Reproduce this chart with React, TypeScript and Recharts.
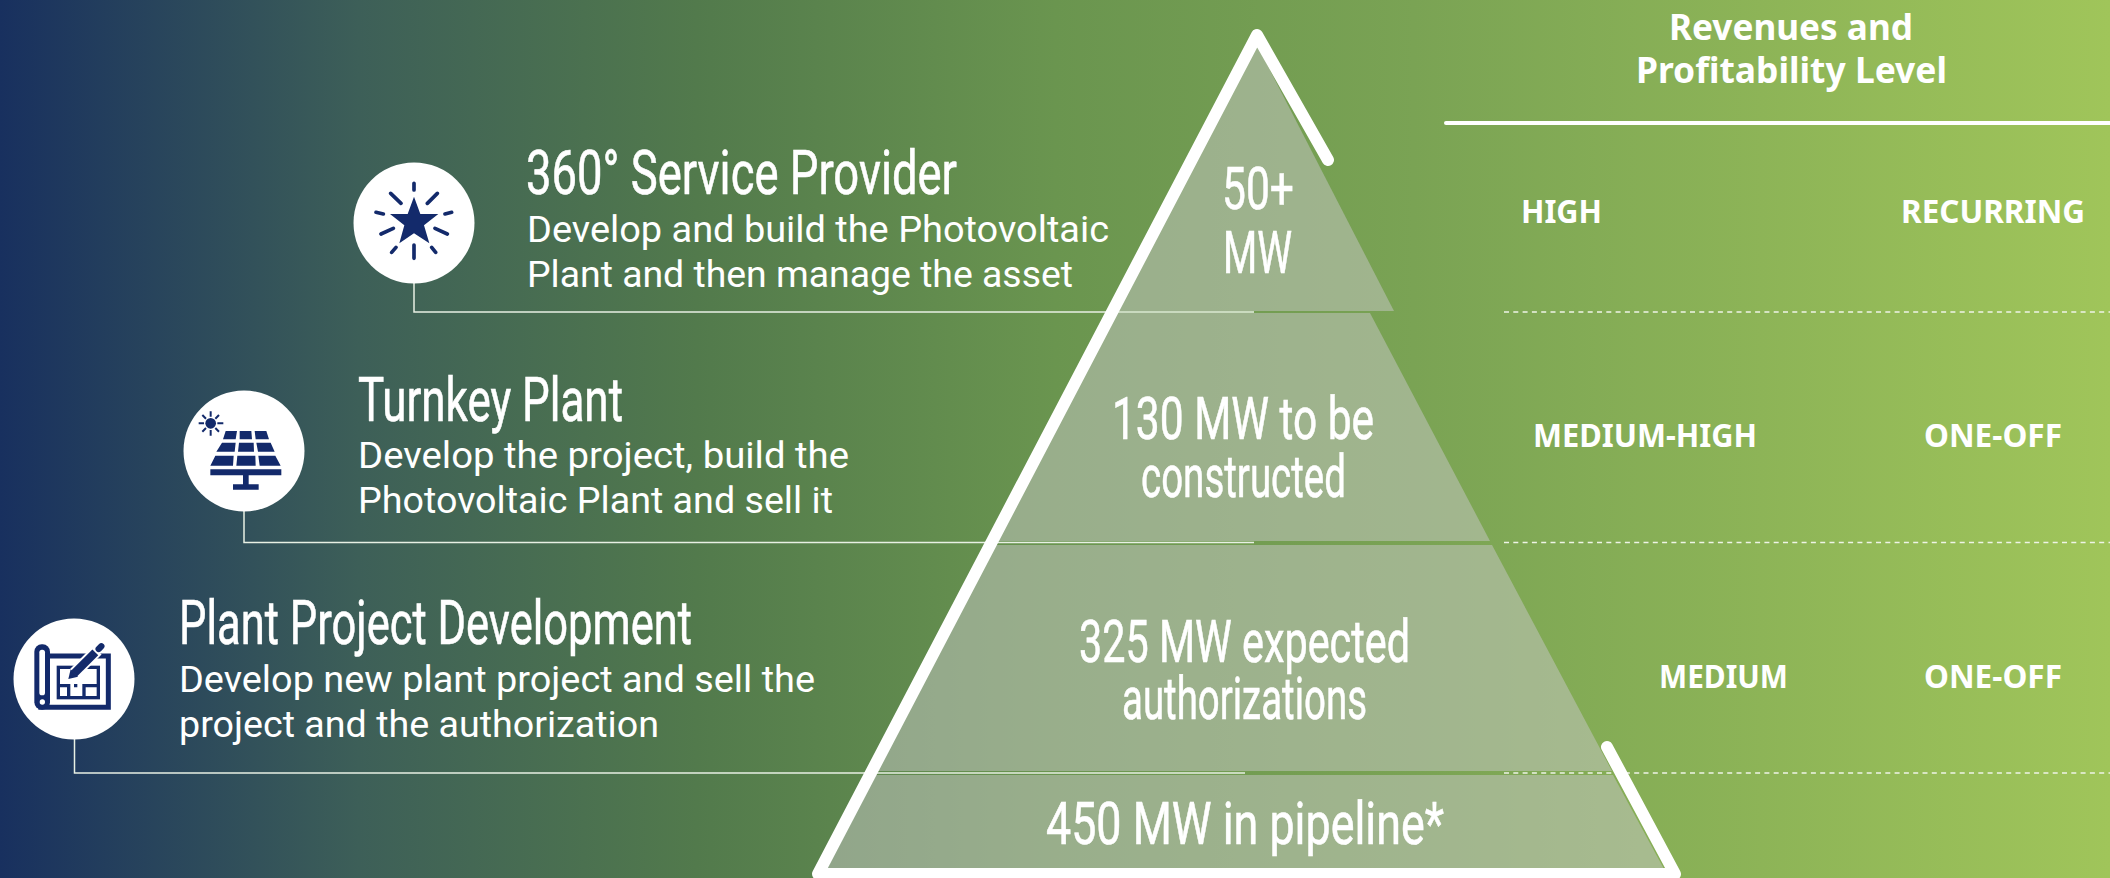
import { Area, ComposedChart, Line, Scatter, XAxis, YAxis } from "recharts";

const WIDTH = 2110;
const HEIGHT = 878;
const NAVY = "#132a6b";
const NARROW = "'Liberation Sans Narrow', Roboto, sans-serif";
const BODY = "Roboto, sans-serif";
const PLEX_BOLD = "'Noto Sans', Roboto, sans-serif";

// Offerings, top of the pyramid first
const headings = ["360° Service Provider", "Turnkey Plant", "Plant Project Development"];
const descriptions = [
  "Develop and build the Photovoltaic",
  "Plant and then manage the asset",
  "Develop the project, build the",
  "Photovoltaic Plant and sell it",
  "Develop new plant project and sell the",
  "project and the authorization",
];
const capacities = [
  "50+",
  "MW",
  "130 MW to be",
  "constructed",
  "325 MW expected",
  "authorizations",
  "450 MW in pipeline*",
];
const tableTitle = ["Revenues and", "Profitability Level"];
const ratings = ["HIGH", "RECURRING", "MEDIUM-HIGH", "ONE-OFF", "MEDIUM", "ONE-OFF"];
const icons = ["star", "solar", "plan"];

// Where things sit on the picture: [x, baseline, text width]
const headingSpots = [[526, 194, 431], [358, 421, 265], [179, 644, 513]];
const descriptionSpots = [
  [527, 242, 582], [527, 287, 546],
  [358, 468, 491], [358, 513, 475],
  [179, 692, 636], [179, 737, 480],
];
const capacitySpots = [
  [1222, 209, 72], [1223, 273, 69],
  [1112, 439, 262], [1141, 497, 205],
  [1079, 662, 331], [1122, 719, 245],
  [1046, 844, 398],
];
const titleSpots = [[1669, 40, 244], [1636, 83, 311]];
const ratingSpots = [
  [1521, 223, 81], [1901, 223, 184],
  [1533, 447, 224], [1924, 447, 138],
  [1659, 688, 129], [1924, 688, 138],
];
const iconCentres = [[414, 223], [244, 451], [74, 679]];

// Pyramid tiers as outlines: [x, top y, bottom y]
const tierTrapezoids = [
  [[1118, 311, 311], [1256, 43, 311], [1394, 311, 311]],
  [[998, 541, 541], [1117, 313, 541], [1370, 313, 541], [1490, 541, 541]],
  [[878, 771, 771], [996, 545, 771], [1492, 545, 771], [1612, 771, 771]],
  [[827, 869, 869], [876, 775, 869], [1613, 775, 869], [1664, 869, 869]],
];
const pyramidOutline = [[1607, 747], [1675, 874], [818, 874], [1257, 35], [1328, 160]];

const connectors = [
  [[414, 283], [414, 312], [1254, 312]],
  [[244, 511], [244, 542.5], [1254, 542.5]],
  [[74.5, 739], [74.5, 773], [1245, 773]],
];
const headerRule = [[1446, 123], [2110, 123]];
const rowRules = [312, 542.5, 773];

const toXY = (pts: number[][]) => pts.map(([x, y]) => ({ x, y }));
const toBand = (pts: number[][]) => pts.map(([x, top, bottom]) => ({ x, band: [top, bottom] }));
const place = (items: string[], spots: number[][]) =>
  items.map((text, i) => ({ text, x: spots[i][0], y: spots[i][1], w: spots[i][2] }));

const textShape = (size: number, family: string, weight: number, thicken = 0) => (props: any) => (
  <text
    x={props.cx}
    y={props.cy}
    fontSize={size}
    fontFamily={family}
    fontWeight={weight}
    fill="#ffffff"
    stroke={thicken ? "#ffffff" : "none"}
    strokeWidth={thicken}
    textLength={props.payload.w}
    lengthAdjust="spacingAndGlyphs"
  >
    {props.payload.text}
  </text>
);

function StarIcon() {
  return (
    <g transform="translate(-222,-219)">
      <path
        d="M222,140 L241,192 L295,192 L252,226 L268,280 L222,250 L178,280 L193,226 L150,192 L203,192 Z"
        fill={NAVY}
      />
      <path
        d="M222,100V120 M292,130L262,160 M152,130L183,160 M315,192L335,187 M108,187L130,192 M285,235L322,252 M160,235L123,252 M222,285V325 M275,292L287,307 M168,292L155,307"
        stroke={NAVY}
        strokeWidth={11}
        strokeLinecap="round"
        fill="none"
      />
    </g>
  );
}

function SolarIcon() {
  return (
    <g transform="translate(-253,-243)">
      <circle cx={153} cy={160} r={16} fill={NAVY} />
      <path
        d="M153,124V140 M153,180V197 M117,160H133 M173,160H191 M128,135L139,146 M178,135L167,146 M128,185L139,174 M178,185L167,174"
        stroke={NAVY}
        strokeWidth={6}
        fill="none"
      />
      <path
        fill={NAVY}
        d="M198,183H232L228,208H190Z M240,183H275L277,208H240Z M285,183H320L328,208H288Z
           M187,218H228L225,245H170Z M238,218H282L283,245H235Z M290,218H333L345,245H295Z
           M167,257H222L220,287H152Z M233,257H287L288,287H230Z M296,257H347L363,287H300Z
           M152,298H365V316H152Z M250,316H267V343H250Z M220,343H297V359H220Z"
      />
    </g>
  );
}

function PlanIcon() {
  return (
    <g transform="translate(-222,-236)">
      <rect x={103} y={132} width={47} height={196} rx={22} fill={NAVY} />
      <path d="M140,167H325V321H115" stroke={NAVY} strokeWidth={15} fill="none" />
      <rect x={118} y={148} width={17} height={137} rx={8} fill="#ffffff" />
      <circle cx={127} cy={305} r={8} fill="#ffffff" />
      <rect x={175} y={201} width={120} height={91} stroke={NAVY} strokeWidth={10} fill="none" />
      <path
        d="M175,256H206V292 M252,292V256H295 M222,256H232"
        stroke={NAVY}
        strokeWidth={10}
        fill="none"
      />
      <path d="M205,237L292,150" stroke="#ffffff" strokeWidth={36} fill="none" />
      <path d="M222,220L286,156" stroke={NAVY} strokeWidth={25} fill="none" />
      <path d="M296,146L304,138" stroke={NAVY} strokeWidth={19} strokeLinecap="round" fill="none" />
      <path d="M205,236L212,207L234,229Z" fill={NAVY} />
    </g>
  );
}

const iconShape = (props: any) => {
  const kind = props.payload.kind;
  return (
    <g transform={`translate(${props.cx},${props.cy})`}>
      <circle r={60.5} fill="#ffffff" />
      <g transform="scale(0.3333)">
        {kind === "star" && <StarIcon />}
        {kind === "solar" && <SolarIcon />}
        {kind === "plan" && <PlanIcon />}
      </g>
    </g>
  );
};

const iconData = icons.map((kind, i) => ({ kind, x: iconCentres[i][0], y: iconCentres[i][1] }));

export default function App() {
  return (
    <div
      style={{
        position: "fixed",
        left: 0,
        top: 0,
        width: WIDTH,
        height: HEIGHT,
        overflow: "hidden",
        background:
          "linear-gradient(90deg, #18305f 0%, #3d5f58 17%, #527a4c 33%, #6a954f 50%, #7aa354 67%, #a0c55a 100%)",
      }}
    >
      <ComposedChart width={WIDTH} height={HEIGHT} margin={{ top: 0, right: 0, bottom: 0, left: 0 }}>
        <XAxis type="number" dataKey="x" domain={[0, WIDTH]} hide />
        <YAxis type="number" domain={[0, HEIGHT]} reversed hide />

        {tierTrapezoids.map((tier, i) => (
          <Area
            key={i}
            data={toBand(tier)}
            dataKey="band"
            type="linear"
            stroke="none"
            fill="#c8c8c8"
            fillOpacity={0.5}
            dot={false}
            activeDot={false}
            isAnimationActive={false}
          />
        ))}

        {connectors.map((pts, i) => (
          <Line
            key={i}
            data={toXY(pts)}
            dataKey="y"
            type="linear"
            stroke="#e8f0e4"
            strokeWidth={1.5}
            dot={false}
            activeDot={false}
            isAnimationActive={false}
          />
        ))}
        {rowRules.map((y, i) => (
          <Line
            key={i}
            data={toXY([[1504, y], [WIDTH, y]])}
            dataKey="y"
            type="linear"
            stroke="#eef4e6"
            strokeWidth={1.5}
            strokeDasharray="5 4.3"
            dot={false}
            activeDot={false}
            isAnimationActive={false}
          />
        ))}
        <Line
          data={toXY(headerRule)}
          dataKey="y"
          type="linear"
          stroke="#ffffff"
          strokeWidth={4}
          strokeLinecap="round"
          dot={false}
          activeDot={false}
          isAnimationActive={false}
        />
        <Line
          data={toXY(pyramidOutline)}
          dataKey="y"
          type="linear"
          stroke="#ffffff"
          strokeWidth={12}
          strokeLinecap="round"
          strokeLinejoin="round"
          dot={false}
          activeDot={false}
          isAnimationActive={false}
        />

        <Scatter data={iconData} dataKey="y" shape={iconShape} isAnimationActive={false} />
        <Scatter
          data={place(headings, headingSpots)}
          dataKey="y"
          shape={textShape(62, NARROW, 400, 0.6)}
          isAnimationActive={false}
        />
        <Scatter
          data={place(descriptions, descriptionSpots)}
          dataKey="y"
          shape={textShape(36.5, BODY, 400)}
          isAnimationActive={false}
        />
        <Scatter
          data={place(capacities, capacitySpots)}
          dataKey="y"
          shape={textShape(60, NARROW, 400, 0.6)}
          isAnimationActive={false}
        />
        <Scatter
          data={place(tableTitle, titleSpots)}
          dataKey="y"
          shape={textShape(36, PLEX_BOLD, 700)}
          isAnimationActive={false}
        />
        <Scatter
          data={place(ratings, ratingSpots)}
          dataKey="y"
          shape={textShape(32, PLEX_BOLD, 700)}
          isAnimationActive={false}
        />
      </ComposedChart>
    </div>
  );
}
